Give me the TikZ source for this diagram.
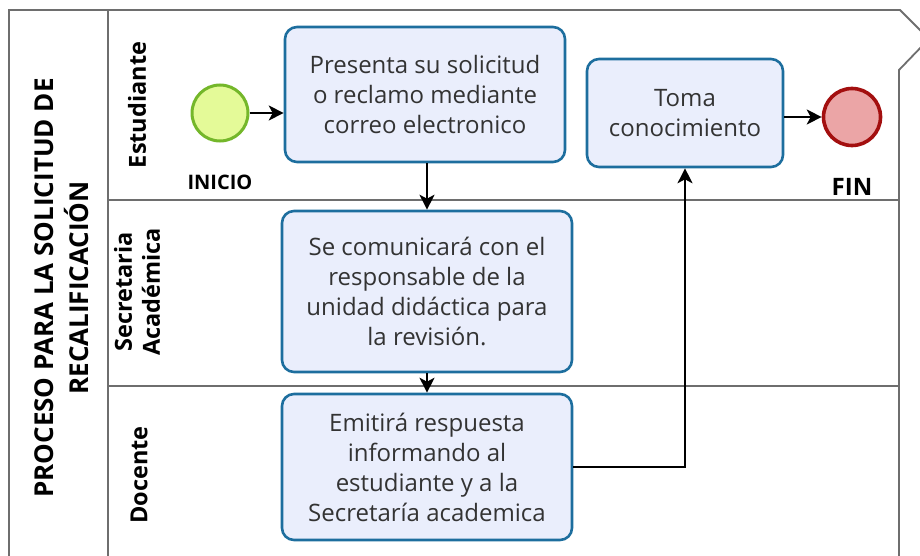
\documentclass[tikz,border=0pt]{standalone}
\usepackage{fontspec}
\setmainfont{Open Sans}
\usetikzlibrary{arrows.meta}
\definecolor{boxfill}{HTML}{EAEEFC}
\definecolor{boxdraw}{HTML}{1D6E9E}
\definecolor{startfill}{HTML}{E4FA98}
\definecolor{startdraw}{HTML}{74B72A}
\definecolor{endfill}{HTML}{EBA5A6}
\definecolor{enddraw}{HTML}{A30F0F}
\definecolor{lanecol}{HTML}{6E6E6E}
\definecolor{txtcol}{HTML}{333333}
\tikzset{
  task/.style={draw=boxdraw, line width=2.6pt, fill=boxfill, rounded corners=12pt,
    align=center, text=txtcol, font=\fontsize{24}{30}\selectfont, inner sep=0pt},
  evstart/.style={circle, draw=startdraw, fill=startfill, line width=3pt, minimum size=56pt, inner sep=0pt},
  evend/.style={circle, draw=enddraw, fill=endfill, line width=3.6pt, minimum size=57pt, inner sep=0pt},
  lane/.style={draw=lanecol, line width=1.8pt},
  flow/.style={draw=black, line width=1.6pt, -{Stealth[length=15pt,width=15pt,inset=4pt]}},
  lanelabel/.style={rotate=90, align=center, font=\bfseries\fontsize{23.5}{28}\selectfont, text=black},
  titlelabel/.style={rotate=90, align=center, font=\bfseries\fontsize{26}{35}\selectfont, text=black},
  evlabel/.style={font=\bfseries\fontsize{#1}{24}\selectfont, text=black}
}
\begin{document}
\begin{tikzpicture}[x=1pt,y=-1pt]
\useasboundingbox (0,0) rectangle (920,556);
\begin{scope}
\clip (0,0) rectangle (920,556);
% pool frame
\draw[lane] (9,560) -- (9,10) -- (900,10) -- (925,35);
\draw[lane] (925,43) -- (899,70) -- (899,560);
\draw[lane] (108,10) -- (108,560);
\draw[lane] (108,200) -- (899,200);
\draw[lane] (108,386) -- (899,386);
\end{scope}
% titles
\node[titlelabel] (title) at (62,288) {PROCESO PARA LA SOLICITUD DE\\RECALIFICACIÓN};
\node[lanelabel] (l1) at (137,105) {Estudiante};
\node[lanelabel] (l2) at (137,292) {Secretaria\\Académica};
\node[lanelabel] (l3) at (139,475) {Docente};
% events
\node[evstart] (s) at (220,113) {};
\node[evlabel=20] (sl) at (220,182) {INICIO};
\node[evend] (e) at (852,117) {};
\node[evlabel=24] (el) at (852,187) {FIN};
% tasks
\node[task, minimum width=280pt, minimum height=135pt] (b1) at (425,94.5)
  {Presenta su solicitud\\o reclamo mediante\\correo electronico};
\node[task, minimum width=290pt, minimum height=161pt] (b2) at (427,291.5)
  {Se comunicará con el\\responsable de la\\unidad didáctica para\\la revisión.};
\node[task, minimum width=290pt, minimum height=146pt] (b3) at (427,467)
  {Emitirá respuesta\\informando al\\estudiante y a la\\Secretaría academica};
\node[task, minimum width=196pt, minimum height=108pt] (b4) at (685,113)
  {Toma\\conocimiento};
% flows
\draw[flow] (s) -- (s -| b1.west);
\draw[flow] (b1.south -| b2.north) -- (b2.north);
\draw[flow] (b2.south) -- (b3.north);
\draw[flow] (b3.east) -| (b4.south);
\draw[flow] (b4.east |- e) -- (e);
\end{tikzpicture}
\end{document}
